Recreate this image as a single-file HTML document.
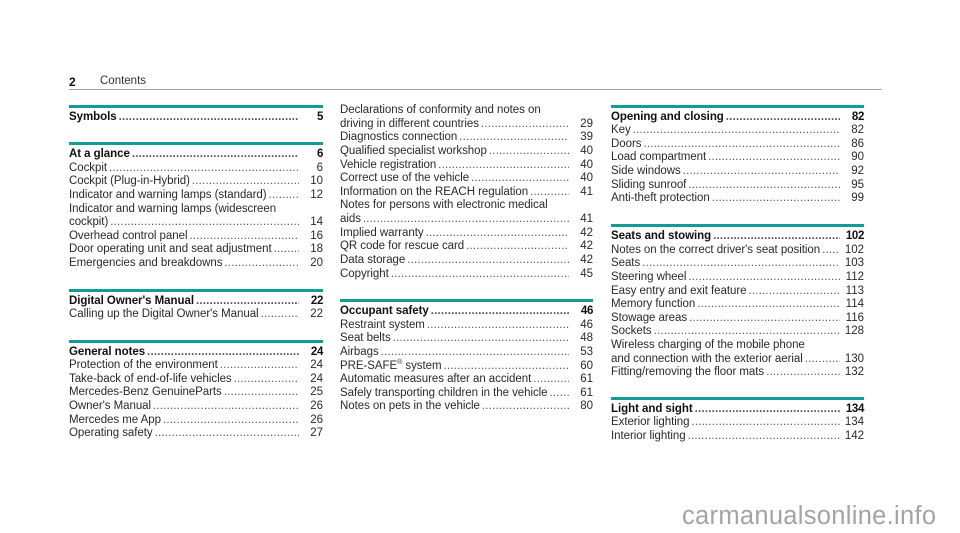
<!DOCTYPE html>
<html><head><meta charset="utf-8"><style>
*{margin:0;padding:0;box-sizing:border-box}
body{width:960px;height:533px;background:#fff;position:relative;overflow:hidden;font-family:"Liberation Sans",sans-serif;font-size:11.5px;color:#2a2a2a}
.bar{position:absolute;height:3px;background:#149b96}
.blk{position:absolute}
.r{display:flex;height:13.65px;line-height:13.65px;white-space:nowrap}
.t{white-space:nowrap;letter-spacing:-0.05px}
.d{flex:1;overflow:hidden;white-space:nowrap;color:#555;letter-spacing:0.2px;margin:0 2px 0 2px}
.n{width:22px;text-align:right}
.h{color:#111;font-weight:bold;letter-spacing:-0.35px}
sup{font-size:7px;line-height:0}
</style></head><body>
<div style="position:absolute;left:69px;top:75px;font-size:12px;font-weight:bold;color:#111">2</div>
<div style="position:absolute;left:100px;top:75px;font-size:11.5px;color:#333">Contents</div>
<div style="position:absolute;left:69px;top:89px;width:813px;height:1px;background:#9aa8a8"></div>

<!-- col1 -->
<div class="bar" style="left:69px;top:105px;width:254px"></div>
<div class="blk" style="left:69px;top:110.5px;width:254px">
<div class="r h"><span class="t">Symbols</span><span class="d">..................................................................................................</span><span class="n">5</span></div>
</div>
<div class="bar" style="left:69px;top:142px;width:254px"></div>
<div class="blk" style="left:69px;top:148px;width:254px">
<div class="r h"><span class="t">At a glance</span><span class="d">..................................................................................................</span><span class="n">6</span></div>
<div class="r"><span class="t">Cockpit</span><span class="d">..................................................................................................</span><span class="n">6</span></div>
<div class="r"><span class="t">Cockpit (Plug-in-Hybrid)</span><span class="d">..................................................................................................</span><span class="n">10</span></div>
<div class="r"><span class="t">Indicator and warning lamps (standard)</span><span class="d">..................................................................................................</span><span class="n">12</span></div>
<div class="r"><span class="t">Indicator and warning lamps (widescreen</span></div>
<div class="r"><span class="t">cockpit)</span><span class="d">..................................................................................................</span><span class="n">14</span></div>
<div class="r"><span class="t">Overhead control panel</span><span class="d">..................................................................................................</span><span class="n">16</span></div>
<div class="r"><span class="t">Door operating unit and seat adjustment</span><span class="d">..................................................................................................</span><span class="n">18</span></div>
<div class="r"><span class="t">Emergencies and breakdowns</span><span class="d">..................................................................................................</span><span class="n">20</span></div>
</div>
<div class="bar" style="left:69px;top:289px;width:254px"></div>
<div class="blk" style="left:69px;top:294.5px;width:254px">
<div class="r h"><span class="t">Digital Owner's Manual</span><span class="d">..................................................................................................</span><span class="n">22</span></div>
<div class="r"><span class="t">Calling up the Digital Owner's Manual</span><span class="d">..................................................................................................</span><span class="n">22</span></div>
</div>
<div class="bar" style="left:69px;top:340px;width:254px"></div>
<div class="blk" style="left:69px;top:345.5px;width:254px">
<div class="r h"><span class="t">General notes</span><span class="d">..................................................................................................</span><span class="n">24</span></div>
<div class="r"><span class="t">Protection of the environment</span><span class="d">..................................................................................................</span><span class="n">24</span></div>
<div class="r"><span class="t">Take-back of end-of-life vehicles</span><span class="d">..................................................................................................</span><span class="n">24</span></div>
<div class="r"><span class="t">Mercedes-Benz GenuineParts</span><span class="d">..................................................................................................</span><span class="n">25</span></div>
<div class="r"><span class="t">Owner's Manual</span><span class="d">..................................................................................................</span><span class="n">26</span></div>
<div class="r"><span class="t">Mercedes me App</span><span class="d">..................................................................................................</span><span class="n">26</span></div>
<div class="r"><span class="t">Operating safety</span><span class="d">..................................................................................................</span><span class="n">27</span></div>
</div>

<!-- col2 -->
<div class="blk" style="left:340px;top:104px;width:253px">
<div class="r"><span class="t">Declarations of conformity and notes on</span></div>
<div class="r"><span class="t">driving in different countries</span><span class="d">..................................................................................................</span><span class="n">29</span></div>
<div class="r"><span class="t">Diagnostics connection</span><span class="d">..................................................................................................</span><span class="n">39</span></div>
<div class="r"><span class="t">Qualified specialist workshop</span><span class="d">..................................................................................................</span><span class="n">40</span></div>
<div class="r"><span class="t">Vehicle registration</span><span class="d">..................................................................................................</span><span class="n">40</span></div>
<div class="r"><span class="t">Correct use of the vehicle</span><span class="d">..................................................................................................</span><span class="n">40</span></div>
<div class="r"><span class="t">Information on the REACH regulation</span><span class="d">..................................................................................................</span><span class="n">41</span></div>
<div class="r"><span class="t">Notes for persons with electronic medical</span></div>
<div class="r"><span class="t">aids</span><span class="d">..................................................................................................</span><span class="n">41</span></div>
<div class="r"><span class="t">Implied warranty</span><span class="d">..................................................................................................</span><span class="n">42</span></div>
<div class="r"><span class="t">QR code for rescue card</span><span class="d">..................................................................................................</span><span class="n">42</span></div>
<div class="r"><span class="t">Data storage</span><span class="d">..................................................................................................</span><span class="n">42</span></div>
<div class="r"><span class="t">Copyright</span><span class="d">..................................................................................................</span><span class="n">45</span></div>
</div>
<div class="bar" style="left:340px;top:298.5px;width:253px"></div>
<div class="blk" style="left:340px;top:305px;width:253px">
<div class="r h"><span class="t">Occupant safety</span><span class="d">..................................................................................................</span><span class="n">46</span></div>
<div class="r"><span class="t">Restraint system</span><span class="d">..................................................................................................</span><span class="n">46</span></div>
<div class="r"><span class="t">Seat belts</span><span class="d">..................................................................................................</span><span class="n">48</span></div>
<div class="r"><span class="t">Airbags</span><span class="d">..................................................................................................</span><span class="n">53</span></div>
<div class="r"><span class="t">PRE-SAFE<sup>®</sup> system</span><span class="d">..................................................................................................</span><span class="n">60</span></div>
<div class="r"><span class="t">Automatic measures after an accident</span><span class="d">..................................................................................................</span><span class="n">61</span></div>
<div class="r"><span class="t">Safely transporting children in the vehicle</span><span class="d">..................................................................................................</span><span class="n">61</span></div>
<div class="r"><span class="t">Notes on pets in the vehicle</span><span class="d">..................................................................................................</span><span class="n">80</span></div>
</div>

<!-- col3 -->
<div class="bar" style="left:611px;top:105px;width:253px"></div>
<div class="blk" style="left:611px;top:110.5px;width:253px">
<div class="r h"><span class="t">Opening and closing</span><span class="d">..................................................................................................</span><span class="n">82</span></div>
<div class="r"><span class="t">Key</span><span class="d">..................................................................................................</span><span class="n">82</span></div>
<div class="r"><span class="t">Doors</span><span class="d">..................................................................................................</span><span class="n">86</span></div>
<div class="r"><span class="t">Load compartment</span><span class="d">..................................................................................................</span><span class="n">90</span></div>
<div class="r"><span class="t">Side windows</span><span class="d">..................................................................................................</span><span class="n">92</span></div>
<div class="r"><span class="t">Sliding sunroof</span><span class="d">..................................................................................................</span><span class="n">95</span></div>
<div class="r"><span class="t">Anti-theft protection</span><span class="d">..................................................................................................</span><span class="n">99</span></div>
</div>
<div class="bar" style="left:611px;top:224px;width:253px"></div>
<div class="blk" style="left:611px;top:230px;width:253px">
<div class="r h"><span class="t">Seats and stowing</span><span class="d">..................................................................................................</span><span class="n">102</span></div>
<div class="r"><span class="t">Notes on the correct driver's seat position</span><span class="d">..................................................................................................</span><span class="n">102</span></div>
<div class="r"><span class="t">Seats</span><span class="d">..................................................................................................</span><span class="n">103</span></div>
<div class="r"><span class="t">Steering wheel</span><span class="d">..................................................................................................</span><span class="n">112</span></div>
<div class="r"><span class="t">Easy entry and exit feature</span><span class="d">..................................................................................................</span><span class="n">113</span></div>
<div class="r"><span class="t">Memory function</span><span class="d">..................................................................................................</span><span class="n">114</span></div>
<div class="r"><span class="t">Stowage areas</span><span class="d">..................................................................................................</span><span class="n">116</span></div>
<div class="r"><span class="t">Sockets</span><span class="d">..................................................................................................</span><span class="n">128</span></div>
<div class="r"><span class="t">Wireless charging of the mobile phone</span></div>
<div class="r"><span class="t">and connection with the exterior aerial</span><span class="d">..................................................................................................</span><span class="n">130</span></div>
<div class="r"><span class="t">Fitting/removing the floor mats</span><span class="d">..................................................................................................</span><span class="n">132</span></div>
</div>
<div class="bar" style="left:611px;top:396.5px;width:253px"></div>
<div class="blk" style="left:611px;top:402.5px;width:253px">
<div class="r h"><span class="t">Light and sight</span><span class="d">..................................................................................................</span><span class="n">134</span></div>
<div class="r"><span class="t">Exterior lighting</span><span class="d">..................................................................................................</span><span class="n">134</span></div>
<div class="r"><span class="t">Interior lighting</span><span class="d">..................................................................................................</span><span class="n">142</span></div>
</div>

<div style="position:absolute;left:682px;top:502px;font-size:25.5px;color:#a3a3a3;letter-spacing:0.3px;line-height:28px">carmanualsonline.info</div>
</body></html>
